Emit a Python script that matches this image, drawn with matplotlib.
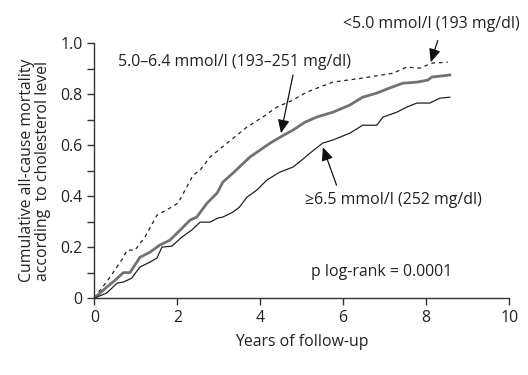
import matplotlib
matplotlib.use("Agg")
import matplotlib.pyplot as plt
from matplotlib.ticker import MultipleLocator

plt.rcParams['font.family'] = ['Open Sans', 'DejaVu Sans']

# <5.0 mmol/l (dashed)
t_low = [0, 0.14, 0.38, 0.69, 0.79, 0.98, 1.22, 1.51, 1.82, 2.02, 2.19, 2.38, 2.55, 2.79,
         3.2, 3.68, 4.06, 4.4, 4.78, 5.12, 5.75, 6.47, 7.2, 7.53, 7.84, 8.16, 8.52]
y_low = [0, 0.031, 0.082, 0.157, 0.188, 0.188, 0.239, 0.325, 0.353, 0.373, 0.424, 0.482, 0.502, 0.553,
         0.608, 0.671, 0.71, 0.749, 0.776, 0.808, 0.847, 0.863, 0.882, 0.906, 0.902, 0.922, 0.925]

# 5.0-6.4 mmol/l (thick gray)
t_mid = [0, 0.3, 0.5, 0.7, 0.86, 1.1, 1.34, 1.58, 1.82, 2.07, 2.31, 2.47, 2.72, 2.96, 3.1, 3.34,
         3.75, 3.99, 4.24, 4.48, 4.79, 5.08, 5.36, 5.75, 6.16, 6.47, 6.81, 7.12, 7.44, 7.78, 8.04,
         8.14, 8.57]
y_mid = [0, 0.043, 0.07, 0.10, 0.10, 0.16, 0.18, 0.208, 0.227, 0.267, 0.306, 0.318, 0.373, 0.412, 0.455, 0.49,
         0.553, 0.58, 0.608, 0.631, 0.659, 0.69, 0.71, 0.729, 0.757, 0.788, 0.804, 0.824, 0.843, 0.847, 0.855,
         0.867, 0.875]

# >=6.5 mmol/l (thin black)
t_high = [0, 0.3, 0.55, 0.7, 0.9, 1.1, 1.34, 1.51, 1.63, 1.87, 2.11, 2.35, 2.55, 2.79, 2.98, 3.1,
          3.34, 3.5, 3.68, 3.92, 4.16, 4.47, 4.79, 5.03, 5.27, 5.51, 5.75, 6.16, 6.47, 6.81, 6.96,
          7.29, 7.53, 7.78, 8.09, 8.33, 8.57]
y_high = [0, 0.02, 0.059, 0.063, 0.078, 0.122, 0.141, 0.157, 0.2, 0.204, 0.239, 0.267, 0.298, 0.298, 0.314, 0.318,
          0.337, 0.357, 0.396, 0.424, 0.463, 0.494, 0.514, 0.545, 0.578, 0.608, 0.62, 0.647, 0.678, 0.678, 0.71,
          0.729, 0.749, 0.765, 0.765, 0.784, 0.788]

x_ticks = [0, 2, 4, 6, 8, 10]
y_ticks = [0, 0.2, 0.4, 0.6, 0.8, 1.0]
y_ticklabels = ['0', '0.2', '0.4', '0.6', '0.8', '1.0']

fig = plt.figure(figsize=(5.28, 3.75), dpi=100)
ax = fig.add_axes([0.1786, 0.205, 0.7856, 0.68])

tc = '#333333'
txt = '#222222'
fs = 11.4
ax.plot(t_low, y_low, color='#222222', lw=0.9, ls=(0, (3, 3)))
ax.plot(t_mid, y_mid, color='#727272', lw=2.0)
ax.plot(t_high, y_high, color='#222222', lw=0.9)

ax.set_xlim(0, 10)
ax.set_ylim(0, 1.0)
ax.set_xticks(x_ticks)
ax.set_yticks(y_ticks)
ax.set_yticklabels(y_ticklabels)
ax.yaxis.set_minor_locator(MultipleLocator(0.1))
for s in ['top', 'right']:
    ax.spines[s].set_visible(False)
for s in ['left', 'bottom']:
    ax.spines[s].set_color(tc)
    ax.spines[s].set_linewidth(1.0)
ax.tick_params(axis='both', which='both', direction='out', length=5, width=1, color=tc,
               labelcolor=txt, labelsize=fs)
ax.tick_params(axis='y', which='minor', length=5)

ax.set_xlabel('Years of follow-up', fontsize=fs, color=txt, labelpad=6)
ax.set_ylabel('Cumulative all-cause mortality\naccording  to cholesterol level', fontsize=fs,
              color=txt, labelpad=7, linespacing=1.0)

arrow = dict(arrowstyle='-|>,head_length=0.8,head_width=0.35', color='#111111', lw=0.9,
             shrinkA=0, shrinkB=0)
ax.text(8.12, 1.075, '<5.0 mmol/l (193 mg/dl)', ha='center', va='center', fontsize=fs, color=txt,
        clip_on=False)
ax.annotate('', xy=(8.11, 0.925), xytext=(8.28, 1.01), arrowprops=arrow, annotation_clip=False)
ax.text(3.37, 0.925, '5.0–6.4 mmol/l (193–251 mg/dl)', ha='center', va='center', fontsize=fs, color=txt)
ax.annotate('', xy=(4.5, 0.647), xytext=(4.79, 0.875), arrowprops=arrow)
ax.annotate('', xy=(5.51, 0.592), xytext=(5.84, 0.443), arrowprops=arrow)
ax.text(9.34, 0.384, '≥6.5 mmol/l (252 mg/dl)', ha='right', va='center', fontsize=fs, color=txt)
ax.text(6.93, 0.102, 'p log-rank = 0.0001', ha='center', va='center', fontsize=fs, color=txt)

fig.savefig('out.png', dpi=100)
